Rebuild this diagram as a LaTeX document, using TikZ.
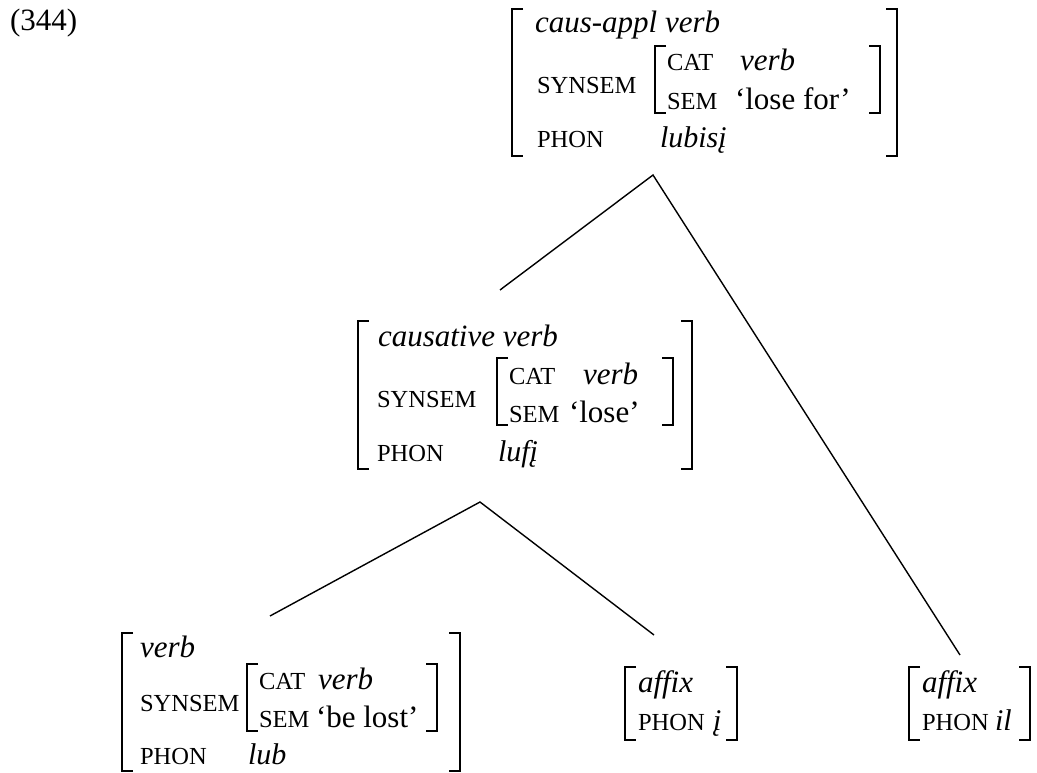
\documentclass[tikz,border=0pt]{standalone}
\usepackage{fontspec}
\setmainfont{Liberation Serif}
\newcommand\tyfont{\fontsize{31}{36}\selectfont\itshape}
\newcommand\attfont{\fontsize{24.5}{28}\selectfont}
\newcommand\valfont{\fontsize{31}{36}\selectfont}
\newcommand\phonfont{\fontsize{30}{36}\selectfont\itshape}
\newcommand\avmlb[4]{\draw[#4] (#1+11,#2) -- (#1,#2) -- (#1,#3) -- (#1+11,#3);}
\newcommand\avmrb[4]{\draw[#4] (#1-11,#2) -- (#1,#2) -- (#1,#3) -- (#1-11,#3);}
\tikzset{
  txt/.style={anchor=base west, inner sep=0pt, outer sep=0pt},
  ty/.style={txt, font=\tyfont},
  att/.style={txt, font=\attfont},
  val/.style={txt, font=\valfont},
  vali/.style={txt, font=\tyfont},
  phon/.style={txt, font=\phonfont},
  outerbr/.style={line width=2.2pt, line cap=butt, line join=miter},
  innerbr/.style={line width=1.6pt, line cap=butt, line join=miter},
  branch/.style={line width=1.4pt}
}
\begin{document}
\begin{tikzpicture}[x=1pt, y=-1pt]
\useasboundingbox (0,0) rectangle (1037,773);

\node[val] (ex) at (10,31) {(344)};

% ---- top AVM: caus-appl verb
\avmlb{512}{9}{156}{outerbr}
\avmrb{897}{9}{156}{outerbr}
\node[ty] (t-type) at (535,33) {caus-appl verb};
\node[att] (t-synsem) at (537,94) {SYNSEM};
\avmlb{655}{46}{113}{innerbr}
\avmrb{880}{46}{113}{innerbr}
\node[att] (t-cat) at (667,71) {CAT};
\node[vali] (t-catv) at (740,71) {verb};
\node[att] (t-sem) at (667,110) {SEM};
\node[val] (t-semv) at (735,110) {‘lose for’};
\node[att] (t-phon) at (537,148) {PHON};
\node[phon] (t-phonv) at (660,148) {lubisį};

% ---- middle AVM: causative verb
\avmlb{358}{321}{469}{outerbr}
\avmrb{692}{321}{469}{outerbr}
\node[ty] (m-type) at (378,346) {causative verb};
\node[att] (m-synsem) at (377,407) {SYNSEM};
\avmlb{497}{358}{425}{innerbr}
\avmrb{673}{358}{425}{innerbr}
\node[att] (m-cat) at (509,384) {CAT};
\node[vali] (m-catv) at (583,384) {verb};
\node[att] (m-sem) at (509,422) {SEM};
\node[val] (m-semv) at (569,422) {‘lose’};
\node[att] (m-phon) at (377,461) {PHON};
\node[phon] (m-phonv) at (498,461) {lufį};

% ---- bottom-left AVM: verb
\avmlb{122}{633}{771}{outerbr}
\avmrb{460}{633}{771}{outerbr}
\node[ty] (b-type) at (140,657) {verb};
\node[att] (b-synsem) at (140,711) {SYNSEM};
\avmlb{247}{664}{731}{innerbr}
\avmrb{437}{664}{731}{innerbr}
\node[att] (b-cat) at (259,689) {CAT};
\node[vali] (b-catv) at (318,689) {verb};
\node[att] (b-sem) at (259,727) {SEM};
\node[val] (b-semv) at (316,727) {‘be lost’};
\node[att] (b-phon) at (140,764) {PHON};
\node[phon] (b-phonv) at (248,764) {lub};

% ---- affix 1
\avmlb{625}{667}{740}{innerbr}
\avmrb{737}{667}{740}{innerbr}
\node[ty] (a1-type) at (638,692) {affix};
\node[att] (a1-phon) at (638,730) {PHON};
\node[phon] (a1-phonv) at (713,730) {į};

% ---- affix 2
\avmlb{909}{667}{740}{innerbr}
\avmrb{1030}{667}{740}{innerbr}
\node[ty] (a2-type) at (922,692) {affix};
\node[att] (a2-phon) at (922,730) {PHON};
\node[phon] (a2-phonv) at (995,730) {il};

% ---- tree branches
\coordinate (top-foot) at (653,175);
\coordinate (mid-head) at (500,290);
\coordinate (a2-head) at (960,655);
\coordinate (mid-foot) at (480,502);
\coordinate (bot-head) at (270,616);
\coordinate (a1-head) at (654,635);
\draw[branch] (mid-head) -- (top-foot) -- (a2-head);
\draw[branch] (bot-head) -- (mid-foot) -- (a1-head);
\end{tikzpicture}
\end{document}
